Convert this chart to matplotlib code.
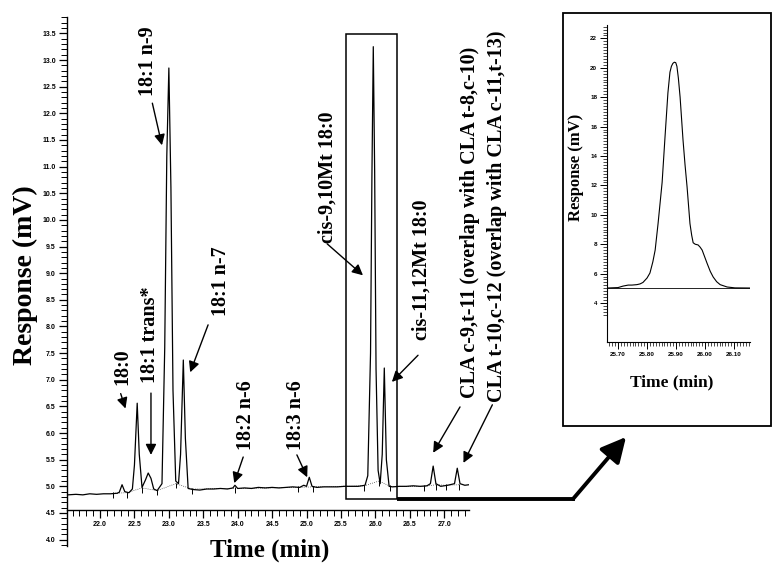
"""
plot.py
GC chromatogram of the C18 region with an expanded view of the cis-9,10Mt 18:0 peak.
"""

import numpy as np
import matplotlib.pyplot as plt
from matplotlib.patches import Rectangle, FancyArrowPatch
from matplotlib.lines import Line2D
from matplotlib.ticker import MultipleLocator, FormatStrFormatter, FixedLocator

OUT_PATH = "out.png"

# main trace (time in min, response in mV)
main_t = [21.53, 21.65, 21.75, 21.85, 21.95, 22.05, 22.15, 22.25, 22.28, 22.32,
          22.36, 22.42, 22.47, 22.50, 22.54, 22.57, 22.61, 22.66, 22.70, 22.74,
          22.78, 22.83, 22.90, 22.94, 22.97, 23.00, 23.03, 23.06, 23.10, 23.14,
          23.17, 23.21, 23.24, 23.28, 23.35, 23.45, 23.55, 23.65, 23.75, 23.85,
          23.93, 23.96, 24.00, 24.10, 24.20, 24.30, 24.40, 24.50, 24.60, 24.70,
          24.80, 24.90, 24.96, 25.00, 25.04, 25.08, 25.15, 25.25, 25.35, 25.45,
          25.55, 25.65, 25.75, 25.85, 25.89, 25.93, 25.95, 25.97, 25.99, 26.01,
          26.04, 26.07, 26.10, 26.13, 26.16, 26.20, 26.25, 26.35, 26.45, 26.55,
          26.65, 26.75, 26.80, 26.84, 26.88, 26.95, 27.05, 27.15, 27.19, 27.23,
          27.30, 27.36]
main_v = [4.84, 4.85, 4.84, 4.86, 4.85, 4.86, 4.86, 4.87, 4.89, 5.03,
          4.90, 4.88, 4.95, 5.40, 6.56, 5.60, 4.98, 5.12, 5.25, 5.15,
          4.95, 4.92, 5.05, 7.60, 11.20, 12.85, 10.60, 6.80, 5.10, 5.05,
          5.60, 7.37, 5.90, 4.96, 4.94, 4.93, 4.95, 4.95, 4.96, 4.95,
          4.97, 5.02, 4.96, 4.97, 4.96, 4.98, 4.97, 4.98, 4.97, 4.98,
          4.99, 4.98, 5.02, 5.00, 5.17, 5.00, 4.98, 4.99, 4.99, 4.99,
          5.00, 5.00, 5.00, 5.02, 5.20, 7.50, 10.80, 13.25, 10.90, 7.20,
          5.30, 5.05, 5.60, 7.22, 5.50, 5.00, 4.99, 5.00, 5.00, 5.01,
          5.00, 5.01, 5.05, 5.38, 5.05, 5.00, 5.02, 5.05, 5.34, 5.05,
          5.02, 5.03]

# integration marks on the baseline (time, baseline level)
mark_t = [22.19, 22.39, 22.61, 22.83, 23.10, 23.34, 23.96, 24.88, 25.10,
          25.84, 26.05, 26.22, 26.71, 26.88, 27.02, 27.22]
mark_v = [4.87, 4.88, 4.97, 4.92, 5.05, 4.95, 4.96, 4.98, 4.99,
          5.01, 5.10, 5.00, 5.00, 5.03, 5.02, 5.03]

# expanded view of the boxed peak
zoom_t = [25.662, 25.700, 25.717, 25.735, 25.748, 25.765, 25.776, 25.786, 25.800,
          25.810, 25.820, 25.828, 25.838, 25.845, 25.852, 25.862, 25.872, 25.879,
          25.884, 25.889, 25.894, 25.899, 25.903, 25.908, 25.914, 25.924, 25.931,
          25.938, 25.948, 25.954, 25.959, 25.966, 25.976, 25.983, 25.990, 26.007,
          26.018, 26.028, 26.040, 26.052, 26.076, 26.103, 26.155]
zoom_v = [5.02, 5.05, 5.15, 5.22, 5.22, 5.25, 5.30, 5.40, 5.70,
          6.04, 6.80, 7.60, 9.40, 10.80, 12.20, 15.30, 18.30, 19.70,
          20.10, 20.30, 20.38, 20.35, 20.10, 19.30, 18.00, 15.10, 13.40,
          11.90, 9.40, 8.60, 8.10, 8.00, 7.95, 7.80, 7.60, 6.70,
          6.15, 5.77, 5.45, 5.25, 5.09, 5.03, 5.02]
zoom_base = 5.0

# peak labels: text, text centre, arrow start, arrow tip
labels = [
    ("18:0",              (22.33, 7.24),  (22.30, 6.74),  (22.37, 6.46)),
    ("18:1 trans*",       (22.73, 7.84),  (22.74, 6.75),  (22.74, 5.59)),
    ("18:1 n-9",          (22.70, 12.98), (22.76, 12.19), (22.90, 11.40)),
    ("18:1 n-7",          (23.76, 8.85),  (23.57, 8.03),  (23.31, 7.14)),
    ("18:2 n-6",          (24.12, 6.34),  (24.08, 5.55),  (23.95, 5.06)),
    ("18:3 n-6",          (24.85, 6.34),  (24.86, 5.59),  (25.01, 5.17)),
    ("cis-9,10Mt 18:0",   (25.30, 10.80), (25.30, 9.55),  (25.82, 8.96)),
    ("cis-11,12Mt 18:0",  (26.67, 9.06),  (26.62, 7.46),  (26.24, 6.96)),
    ("CLA c-9,t-11 (overlap with CLA t-8,c-10)",
                          (27.38, 9.96),  (27.23, 6.49),  (26.84, 5.63)),
    ("CLA t-10,c-12 (overlap with CLA c-11,t-13)",
                          (27.77, 10.07), (27.70, 6.53),  (27.28, 5.44)),
]

plt.rcParams["font.family"] = ["Liberation Serif", "DejaVu Serif"]

fig = plt.figure(figsize=(7.79, 5.66), dpi=100)

# ---- main chromatogram
ax = fig.add_axes([0.0860, 0.0353, 0.516, 0.934])
ax.plot(mark_t, mark_v, color="black", lw=0.5, ls=(0, (1, 2)))
ax.plot(main_t, main_v, color="black", lw=0.9, solid_joinstyle="round")
ax.vlines(mark_t, np.array(mark_v) - 0.09, np.array(mark_v) + 0.02,
          color="black", lw=0.7)
ax.set_xlim(21.52, 27.36)
ax.set_ylim(3.88, 13.8)

ax.spines["top"].set_visible(False)
ax.spines["right"].set_visible(False)
ax.spines["bottom"].set_position(("data", 4.555))
for s in ("left", "bottom"):
    ax.spines[s].set_linewidth(1.0)

ax.xaxis.set_major_locator(MultipleLocator(0.5))
ax.xaxis.set_minor_locator(MultipleLocator(0.1))
ax.yaxis.set_major_locator(MultipleLocator(0.5))
ax.yaxis.set_minor_locator(MultipleLocator(0.1))
ax.xaxis.set_major_formatter(FormatStrFormatter("%.1f"))
ax.yaxis.set_major_formatter(FormatStrFormatter("%.1f"))
ax.tick_params(which="major", direction="out", length=6, width=0.9,
               labelsize=5, pad=2)
ax.tick_params(which="minor", direction="out", length=4, width=0.7)
for lab in ax.get_xticklabels() + ax.get_yticklabels():
    lab.set_fontfamily("Liberation Sans")
    lab.set_fontweight("bold")

# box round the expanded peak
ax.add_patch(Rectangle((25.575, 4.76), 26.317 - 25.575, 13.49 - 4.76,
                       fill=False, lw=1.1, ec="black", clip_on=False))

for text, txy, start, tip in labels:
    ax.text(txy[0], txy[1], text, rotation=90, ha="center", va="center",
            fontsize=14.5, fontweight="bold", clip_on=False)
    ax.annotate("", xy=tip, xytext=start,
                arrowprops=dict(arrowstyle="-|>", color="black", lw=1.0,
                                mutation_scale=16, shrinkA=0, shrinkB=0))

fig.text(25 / 779, 1 - 275 / 566, "Response (mV)", rotation=90,
         ha="center", va="center", fontsize=20, fontweight="bold")
fig.text(270 / 779, 1 - 550 / 566, "Time (min)", ha="center", va="center",
         fontsize=18, fontweight="bold")

# ---- thick arrow leading to the expanded view
def fx(px):
    return px / 779

def fy(py):
    return 1 - py / 566

fig.add_artist(Line2D([fx(397), fx(575)], [fy(499), fy(499)],
                      transform=fig.transFigure, color="black", lw=2.8,
                      solid_capstyle="butt"))
fig.add_artist(FancyArrowPatch((fx(573), fy(499)), (fx(626), fy(437)),
                               transform=fig.transFigure,
                               arrowstyle="-|>,head_length=0.75,head_width=0.38",
                               mutation_scale=20, lw=2.8, color="black",
                               shrinkA=0, shrinkB=0))

# ---- expanded view
fig.add_artist(Rectangle((fx(563), fy(426)), (771 - 563) / 779, (426 - 13) / 566,
                         transform=fig.transFigure, fill=False, lw=1.3,
                         ec="black"))

ax2 = fig.add_axes([0.7792, 0.3958, 0.1836, 0.560])
ax2.axhline(zoom_base, color="black", lw=0.6)
ax2.plot(zoom_t, zoom_v, color="black", lw=0.8, solid_joinstyle="round")
ax2.set_xlim(25.662, 26.155)
ax2.set_ylim(1.35, 22.91)
ax2.spines["top"].set_visible(False)
ax2.spines["right"].set_visible(False)
ax2.xaxis.set_major_locator(MultipleLocator(0.1))
ax2.xaxis.set_minor_locator(MultipleLocator(0.01))
ax2.yaxis.set_major_locator(FixedLocator(np.arange(4, 23, 2)))
ax2.yaxis.set_minor_locator(FixedLocator(np.arange(3.2, 23.0, 0.2)))
ax2.xaxis.set_major_formatter(FormatStrFormatter("%.2f"))
ax2.yaxis.set_major_formatter(FormatStrFormatter("%d"))
ax2.tick_params(which="major", direction="out", length=5, width=0.7,
                labelsize=4.5, pad=2)
ax2.tick_params(which="minor", direction="out", length=3, width=0.5)
for lab in ax2.get_xticklabels() + ax2.get_yticklabels():
    lab.set_fontfamily("Liberation Sans")
    lab.set_fontweight("bold")

fig.text(fx(576), fy(167), "Response (mV)", rotation=90, ha="center",
         va="center", fontsize=12, fontweight="bold")
fig.text(fx(672), fy(382), "Time (min)", ha="center", va="center",
         fontsize=12.5, fontweight="bold")

fig.savefig(OUT_PATH, dpi=100)
print(f"Saved {OUT_PATH}")
